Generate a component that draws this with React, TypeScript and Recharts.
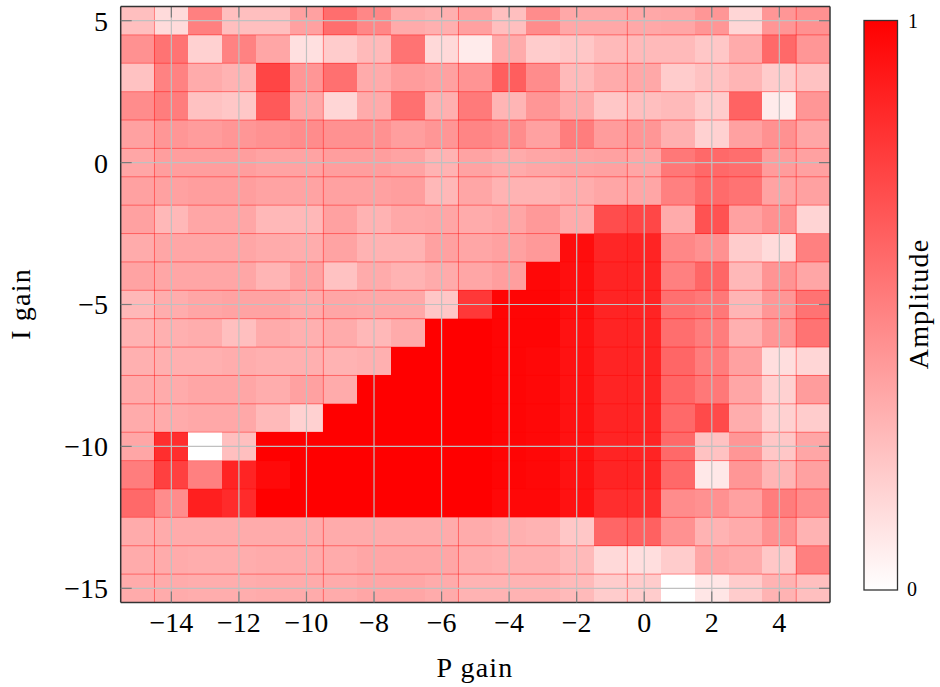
import * as React from "react";
import { ScatterChart, Scatter, XAxis, YAxis, ReferenceLine } from "recharts";

const P_GAIN = [-15, -14, -13, -12, -11, -10, -9, -8, -7, -6, -5, -4, -3, -2, -1, 0, 1, 2, 3, 4, 5];
const I_GAIN = [5, 4, 3, 2, 1, 0, -1, -2, -3, -4, -5, -6, -7, -8, -9, -10, -11, -12, -13, -14, -15];
const X_TICKS = [-14, -12, -10, -8, -6, -4, -2, 0, 2, 4];
const Y_TICKS = [-15, -10, -5, 0, 5];
// seams visible in the original raster between some columns
const SEAM_X = [-14.5, -9.5, -5.5, -0.5, 4.5];

// amplitude per row (I gain from 5 down to -15), columns P gain -15..5
const AMPLITUDE: number[][] = [
  [0.25, 0.14, 0.5, 0.25, 0.25, 0.37, 0.57, 0.47, 0.33, 0.31, 0.37, 0.25, 0.45, 0.34, 0.34, 0.34, 0.35, 0.41, 0.16, 0.41, 0.43],
  [0.43, 0.55, 0.18, 0.49, 0.35, 0.12, 0.2, 0.27, 0.55, 0.15, 0.08, 0.33, 0.2, 0.22, 0.27, 0.27, 0.27, 0.22, 0.33, 0.59, 0.41],
  [0.24, 0.49, 0.33, 0.3, 0.73, 0.41, 0.56, 0.33, 0.39, 0.37, 0.42, 0.63, 0.45, 0.27, 0.33, 0.34, 0.2, 0.24, 0.29, 0.2, 0.24],
  [0.45, 0.51, 0.24, 0.22, 0.65, 0.34, 0.16, 0.33, 0.56, 0.31, 0.52, 0.29, 0.41, 0.33, 0.22, 0.25, 0.27, 0.2, 0.61, 0.08, 0.41],
  [0.37, 0.41, 0.39, 0.41, 0.43, 0.45, 0.43, 0.43, 0.38, 0.41, 0.48, 0.45, 0.37, 0.51, 0.39, 0.41, 0.31, 0.18, 0.37, 0.43, 0.35],
  [0.35, 0.38, 0.38, 0.38, 0.36, 0.36, 0.38, 0.38, 0.36, 0.3, 0.36, 0.33, 0.35, 0.36, 0.37, 0.35, 0.53, 0.59, 0.57, 0.39, 0.37],
  [0.37, 0.37, 0.38, 0.38, 0.36, 0.36, 0.37, 0.37, 0.38, 0.28, 0.35, 0.3, 0.3, 0.32, 0.35, 0.35, 0.5, 0.58, 0.55, 0.36, 0.37],
  [0.37, 0.28, 0.35, 0.35, 0.28, 0.28, 0.37, 0.3, 0.34, 0.35, 0.33, 0.35, 0.4, 0.33, 0.7, 0.72, 0.33, 0.68, 0.37, 0.43, 0.17],
  [0.33, 0.35, 0.35, 0.35, 0.33, 0.32, 0.36, 0.3, 0.3, 0.37, 0.35, 0.37, 0.4, 0.95, 0.85, 0.86, 0.47, 0.43, 0.2, 0.14, 0.5],
  [0.36, 0.35, 0.35, 0.35, 0.29, 0.36, 0.24, 0.33, 0.3, 0.33, 0.35, 0.38, 0.97, 0.94, 0.86, 0.86, 0.5, 0.6, 0.28, 0.42, 0.35],
  [0.28, 0.32, 0.35, 0.36, 0.36, 0.33, 0.35, 0.34, 0.34, 0.22, 0.78, 0.98, 0.98, 0.94, 0.86, 0.86, 0.56, 0.53, 0.29, 0.41, 0.55],
  [0.3, 0.31, 0.32, 0.25, 0.33, 0.31, 0.33, 0.28, 0.33, 1, 1, 0.98, 0.98, 0.93, 0.86, 0.86, 0.57, 0.51, 0.31, 0.41, 0.55],
  [0.31, 0.31, 0.31, 0.32, 0.31, 0.31, 0.3, 0.31, 1, 1, 1, 0.98, 0.97, 0.93, 0.86, 0.86, 0.6, 0.51, 0.37, 0.13, 0.16],
  [0.33, 0.33, 0.35, 0.35, 0.32, 0.37, 0.33, 1, 1, 1, 1, 0.98, 0.97, 0.93, 0.86, 0.86, 0.6, 0.53, 0.35, 0.18, 0.39],
  [0.33, 0.33, 0.34, 0.34, 0.27, 0.18, 1, 1, 1, 1, 1, 0.98, 0.97, 0.93, 0.86, 0.86, 0.59, 0.71, 0.32, 0.18, 0.2],
  [0.35, 0.82, 0, 0.25, 1, 1, 1, 1, 1, 1, 1, 0.98, 0.97, 0.93, 0.86, 0.86, 0.59, 0.24, 0.41, 0.22, 0.35],
  [0.51, 0.75, 0.5, 0.86, 0.96, 1, 1, 1, 1, 1, 1, 0.98, 0.97, 0.93, 0.86, 0.86, 0.59, 0.09, 0.41, 0.29, 0.37],
  [0.59, 0.45, 0.88, 0.83, 1, 1, 1, 1, 1, 1, 1, 0.97, 0.97, 0.93, 0.82, 0.82, 0.45, 0.43, 0.37, 0.51, 0.45],
  [0.33, 0.33, 0.33, 0.33, 0.33, 0.33, 0.33, 0.33, 0.33, 0.33, 0.33, 0.31, 0.3, 0.22, 0.6, 0.62, 0.43, 0.3, 0.33, 0.43, 0.3],
  [0.33, 0.33, 0.32, 0.32, 0.33, 0.33, 0.33, 0.35, 0.35, 0.35, 0.32, 0.31, 0.31, 0.27, 0.15, 0.13, 0.2, 0.35, 0.33, 0.22, 0.5],
  [0.33, 0.33, 0.32, 0.32, 0.33, 0.33, 0.33, 0.35, 0.35, 0.33, 0.3, 0.3, 0.3, 0.27, 0.2, 0.2, 0, 0.1, 0.2, 0.3, 0.25],
];

const WIDTH = 940;
const HEIGHT = 687;
const PLOT_LEFT = 120.7;
const PLOT_RIGHT = 830;
const PLOT_TOP = 6.5;
const PLOT_BOTTOM = 602.5;
const CELL_W = (PLOT_RIGHT - PLOT_LEFT) / P_GAIN.length;
const CELL_H = (PLOT_BOTTOM - PLOT_TOP) / I_GAIN.length;
const DOMAIN: [number, number] = [-15.5, 5.5];
const TICK_LEN = 11;

const FONT = '"Liberation Serif", "Times New Roman", serif';
const GRID = "#c0c0c0";
const TICK = "#7a7a7a";
const FRAME = "#333333";
const SEAM = "rgba(255,0,0,0.42)";

const cells = I_GAIN.flatMap((i, r) => P_GAIN.map((p, c) => ({ p, i, v: AMPLITUDE[r][c] })));

function amplitudeColor(v: number) {
  const g = Math.round(255 * (1 - v));
  return `rgb(255,${g},${g})`;
}

const fmt = (v: number) => (v < 0 ? `\u2212${Math.abs(v)}` : `${v}`);

const HeatCell = (props: any) => {
  const { cx, cy, payload } = props;
  if (cx == null || cy == null) return null;
  return (
    <rect
      x={cx - CELL_W / 2}
      y={cy - CELL_H / 2}
      width={CELL_W}
      height={CELL_H}
      fill={amplitudeColor(payload.v)}
      shapeRendering="crispEdges"
    />
  );
};

const rowSeams = I_GAIN.slice(1).map((i) => i + 0.5);
const [LO, HI] = DOMAIN;

export default function App() {
  const tickStyle = { fill: "#000", fontSize: 28, fontFamily: FONT };
  return (
    <div style={{ position: "fixed", left: 0, top: 0, width: WIDTH, height: HEIGHT, background: "#fff" }}>
      <ScatterChart
        width={WIDTH}
        height={HEIGHT}
        margin={{ top: PLOT_TOP, right: WIDTH - PLOT_RIGHT, bottom: 0, left: 0 }}
      >
        <Scatter data={cells} dataKey="i" shape={HeatCell} isAnimationActive={false} />

        {rowSeams.map((y) => (
          <ReferenceLine key={`rs${y}`} y={y} stroke={SEAM} strokeWidth={1} zIndex={700} />
        ))}
        {SEAM_X.map((x) => (
          <ReferenceLine key={`cs${x}`} x={x} stroke={SEAM} strokeWidth={1} zIndex={700} />
        ))}
        {X_TICKS.map((x) => (
          <ReferenceLine key={`gx${x}`} x={x} stroke={GRID} strokeWidth={1.2} zIndex={710} />
        ))}
        {Y_TICKS.map((y) => (
          <ReferenceLine key={`gy${y}`} y={y} stroke={GRID} strokeWidth={1.2} zIndex={710} />
        ))}
        {/* inward tick marks on the top and right edges */}
        {X_TICKS.map((x) => (
          <ReferenceLine
            key={`tt${x}`}
            segment={[{ x, y: HI }, { x, y: HI - TICK_LEN / CELL_H }]}
            stroke={TICK}
            strokeWidth={1.2}
            zIndex={720}
          />
        ))}
        {Y_TICKS.map((y) => (
          <ReferenceLine
            key={`tr${y}`}
            segment={[{ x: HI, y }, { x: HI - TICK_LEN / CELL_W, y }]}
            stroke={TICK}
            strokeWidth={1.2}
            zIndex={720}
          />
        ))}
        <ReferenceLine y={HI} stroke={FRAME} strokeWidth={1.5} zIndex={730} />
        <ReferenceLine x={HI} stroke={FRAME} strokeWidth={1.5} zIndex={730} />
        <ReferenceLine y={LO} stroke={FRAME} strokeWidth={1.5} zIndex={730} />
        <ReferenceLine x={LO} stroke={FRAME} strokeWidth={1.5} zIndex={730} />

        <XAxis
          dataKey="p"
          type="number"
          domain={DOMAIN}
          ticks={X_TICKS}
          interval={0}
          allowDataOverflow
          height={HEIGHT - PLOT_BOTTOM}
          tickSize={-TICK_LEN}
          tickMargin={20.5}
          tickFormatter={fmt}
          tick={tickStyle}
          tickLine={{ stroke: TICK, strokeWidth: 1.2 }}
          axisLine={false}
          zIndex={800}
        />
        <YAxis
          dataKey="i"
          type="number"
          domain={DOMAIN}
          ticks={Y_TICKS}
          interval={0}
          allowDataOverflow
          width={PLOT_LEFT}
          tickSize={-TICK_LEN}
          tickMargin={23.7}
          tickFormatter={fmt}
          tick={tickStyle}
          tickLine={{ stroke: TICK, strokeWidth: 1.2 }}
          axisLine={false}
          zIndex={800}
        />
      </ScatterChart>

      <svg
        width={WIDTH}
        height={HEIGHT}
        style={{ position: "absolute", left: 0, top: 0, pointerEvents: "none" }}
        fontFamily={FONT}
      >
        <defs>
          <linearGradient id="ampGrad" x1="0" y1="0" x2="0" y2="1">
            <stop offset="0%" stopColor="rgb(255,0,0)" />
            <stop offset="100%" stopColor="rgb(255,255,255)" />
          </linearGradient>
        </defs>
        <rect x={864} y={20.5} width={33.5} height={569.5} fill="url(#ampGrad)" stroke={FRAME} strokeWidth={1.3} />
        <text x={908} y={28} fontSize={20} fill="#000">1</text>
        <text x={907} y={596} fontSize={20} fill="#000">0</text>
        <text
          transform="translate(928,304) rotate(-90)"
          textAnchor="middle"
          fontSize={28}
          letterSpacing={1.2}
          fill="#000"
        >
          Amplitude
        </text>
        <text x={475} y={677} textAnchor="middle" fontSize={28} letterSpacing={1.2} fill="#000">
          P gain
        </text>
        <text
          transform="translate(30,304) rotate(-90)"
          textAnchor="middle"
          fontSize={28}
          letterSpacing={1.2}
          fill="#000"
        >
          I gain
        </text>
      </svg>
    </div>
  );
}
